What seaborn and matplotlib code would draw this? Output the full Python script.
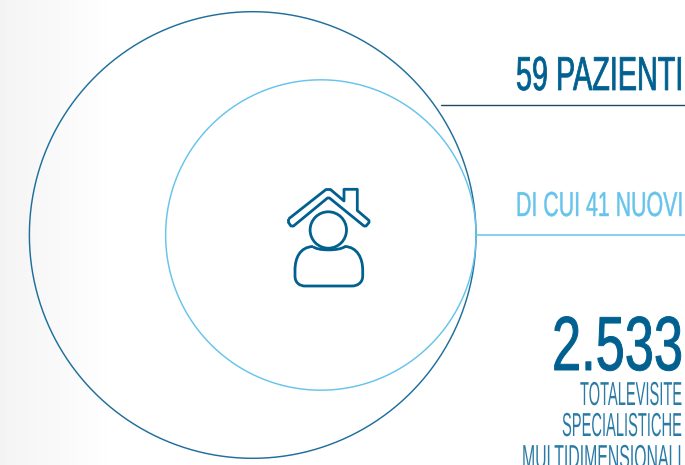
import numpy as np
import seaborn as sns
import matplotlib
matplotlib.use("Agg")
import matplotlib.pyplot as plt
from matplotlib import font_manager as fm
from matplotlib.path import Path
from matplotlib.patches import PathPatch, Circle
from matplotlib.patheffects import AbstractPathEffect
from matplotlib.transforms import Affine2D

# Values shown on the chart
patients_total = 59
patients_new = 41
visits_label = "2.533"
visit_caption = ["TOTALEVISITE", "SPECIALISTICHE", "MULTIDIMENSIONALI"]

DARK = "#00608f"
LIGHT = "#66c4ec"
CAPTION = "#2a7aa6"
RULE = "#1d4a62"

# Circle radii are proportional to the patient counts
PX_PER_PATIENT = 3.785
TANGENT_X = 476.0
CENTER_Y = 235.0

names = {f.name for f in fm.fontManager.ttflist}
FONT = "Liberation Sans Narrow" if "Liberation Sans Narrow" in names else "Liberation Sans"


class Condense(AbstractPathEffect):
    """Squeeze glyphs horizontally about a fixed x position and embolden them."""

    def __init__(self, anchor_x, factor, stroke):
        super().__init__()
        self.anchor_x = anchor_x
        self.factor = factor
        self.stroke = stroke

    def draw_path(self, renderer, gc, tpath, affine, rgbFace=None):
        squeeze = (Affine2D().translate(-self.anchor_x, 0)
                   .scale(self.factor, 1).translate(self.anchor_x, 0))
        outline = renderer.new_gc()
        outline.copy_properties(gc)
        outline.set_linewidth(self.stroke)
        outline.set_foreground(rgbFace)
        renderer.draw_path(outline, tpath, affine + squeeze, rgbFace)
        outline.restore()


sns.set_theme(style="white")
plt.rcParams["font.family"] = [FONT, "DejaVu Sans"]

fig = plt.figure(figsize=(6.85, 4.65), dpi=100)
ax = fig.add_axes([0, 0, 1, 1])
ax.axis("off")

# Soft grey fade on the left edge
fade = np.linspace(0.955, 1.0, 120).reshape(1, -1)
ax.imshow(fade, extent=(0, 120, 465, 0), cmap="gray", vmin=0, vmax=1,
          aspect="auto", zorder=0)
ax.set_xlim(0, 685)
ax.set_ylim(465, 0)


def ring(value, color, lw, z):
    r = value * PX_PER_PATIENT
    t = np.linspace(0, 2 * np.pi, 721)
    sns.lineplot(x=TANGENT_X - r + r * np.cos(t), y=CENTER_Y + r * np.sin(t),
                 sort=False, estimator=None, color=color, linewidth=lw,
                 ax=ax, zorder=z, legend=False)


ring(patients_total, "#1f6f9c", 1.05, 2)
ring(patients_new, LIGHT, 1.05, 3)
ax.set_xlim(0, 685)
ax.set_ylim(465, 0)

# Leader rules
ax.plot([441, 685], [105, 105], color=RULE, lw=1.0, zorder=2)
ax.plot([476, 685], [234.5, 234.5], color=LIGHT, lw=1.1, zorder=2)


def label(text, baseline, cap_px, width_px, color, stroke, right=683.0):
    t = ax.text(right, baseline, text, ha="right", va="baseline", color=color,
                fontsize=cap_px * 1.04, zorder=5)
    full = t.get_window_extent(fig.canvas.get_renderer()).width
    t.set_path_effects([Condense(right, width_px / full, stroke)])
    return t


label(f"{patients_total} PAZIENTI", 90, 33, 167, DARK, 0.55)
label(f"DI CUI {patients_new} NUOVI", 216, 24, 167, LIGHT, 0.3)
label(visits_label, 370, 53, 131, DARK, 0.7)
for line, base, width in zip(visit_caption, [405, 436, 468], [102, 120, 160]):
    label(line, base, 23, width, CAPTION, 0.0, right=682.0)

# House-and-person icon
roof = [(288.5, 219), (326, 189.5), (330.5, 189.5), (344, 201),
        (344, 189.3), (357.3, 189.3), (357.3, 210.5), (369, 220.5),
        (369, 222.5), (366, 226), (364, 226), (329.5, 198), (327.5, 198),
        (293.5, 226), (291, 226), (288.5, 222.5), (288.5, 219)]
ax.add_patch(PathPatch(Path(roof), fill=False, ec=DARK, lw=2.0, joinstyle="round", zorder=6))
ax.add_patch(Circle((328.3, 230), 18.2, fill=False, ec=DARK, lw=2.0, zorder=6))

C4 = Path.CURVE4
body_segments = [
    (Path.MOVETO, (313, 246.5)),
    (C4, (300, 247)), (C4, (295, 258)), (C4, (295, 270)),
    (Path.LINETO, (295, 276)),
    (C4, (295, 283)), (C4, (300, 286)), (C4, (305, 286)),
    (Path.LINETO, (352, 286)),
    (C4, (357, 286)), (C4, (362.7, 283)), (C4, (362.7, 276)),
    (Path.LINETO, (362.7, 270)),
    (C4, (362.7, 258)), (C4, (357, 247)), (C4, (345, 246.5)),
    (C4, (340, 251)), (C4, (317, 251)), (C4, (313, 246.5)),
]
body = Path([v for _, v in body_segments], [c for c, _ in body_segments])
ax.add_patch(PathPatch(body, fill=False, ec=DARK, lw=2.0, joinstyle="round", zorder=6))

fig.savefig("out.png", dpi=100)
